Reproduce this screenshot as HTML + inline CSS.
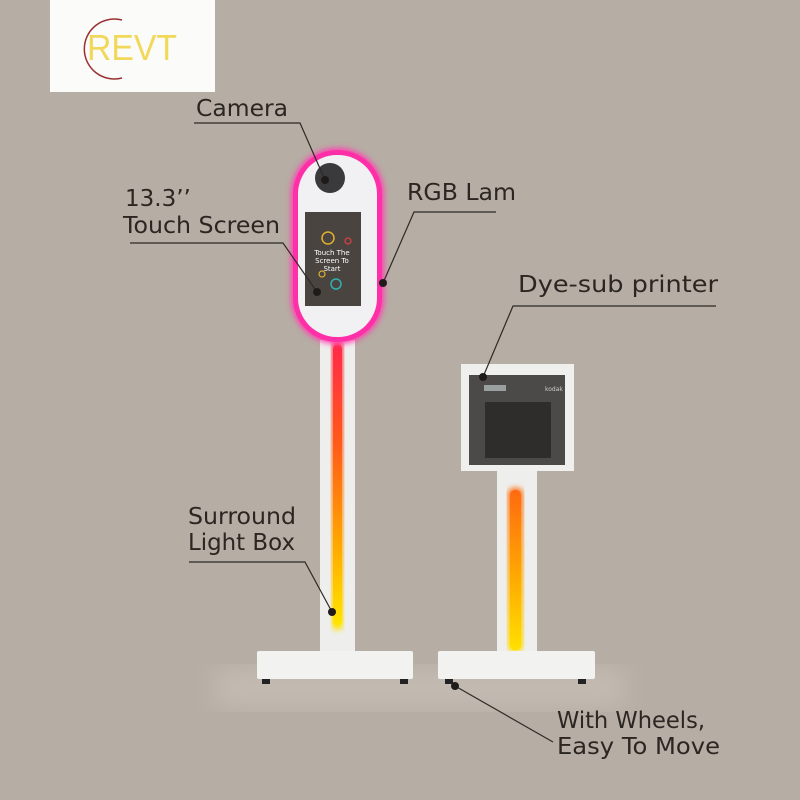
<!DOCTYPE html>
<html><head><meta charset="utf-8"><style>
html,body{margin:0;padding:0;background:#b6ada4;}
svg{display:block}
text{font-family:"DejaVu Sans","Liberation Sans",sans-serif;fill:#2b2622;}
</style></head><body>
<svg width="800" height="800" viewBox="0 0 800 800" xmlns="http://www.w3.org/2000/svg">
<defs>
<linearGradient id="strip" x1="0" y1="0" x2="0" y2="1">
<stop offset="0" stop-color="#ff2a4a"/><stop offset="0.35" stop-color="#ff5a1a"/><stop offset="0.75" stop-color="#ffb000"/><stop offset="1" stop-color="#ffe600"/>
</linearGradient>
<linearGradient id="strip2" x1="0" y1="0" x2="0" y2="1">
<stop offset="0" stop-color="#ff6a10"/><stop offset="0.6" stop-color="#ffb000"/><stop offset="1" stop-color="#ffe000"/>
</linearGradient>
<filter id="glow"><feGaussianBlur stdDeviation="3"/></filter>
<filter id="soft"><feGaussianBlur stdDeviation="12"/></filter>
</defs>
<rect width="800" height="800" fill="#b6ada4"/>
<rect x="215" y="668" width="410" height="40" fill="#c3bbb2" filter="url(#soft)"/>
<!-- logo -->
<rect x="50" y="0" width="165" height="92" fill="#fbfbfa"/>
<path d="M122 20 A30 30 0 1 0 122 78" fill="none" stroke="#9a3030" stroke-width="1.5"/>
<text x="87" y="60" font-size="36" textLength="90" lengthAdjust="spacingAndGlyphs" style="fill:#f1d85a;font-family:'Liberation Sans',sans-serif">REVT</text>
<!-- booth 1 -->
<rect x="320" y="340" width="35" height="315" fill="#eeeeec"/>
<rect x="332" y="340" width="11" height="290" rx="5" fill="url(#strip)" filter="url(#glow)"/>
<rect x="333" y="345" width="9" height="280" rx="4" fill="url(#strip)"/>
<rect x="291" y="148" width="93" height="196" rx="46" fill="#ff3fb0" filter="url(#glow)"/>
<rect x="293" y="150" width="89" height="192" rx="44" fill="#ff2fa8"/>
<rect x="298" y="155" width="79" height="182" rx="39" fill="#f1f1f3"/>
<circle cx="330" cy="178" r="15" fill="#3a3a3c"/>
<rect x="305" y="212" width="56" height="94" fill="#4a4440"/>
<circle cx="328" cy="238" r="6" fill="none" stroke="#e0b030" stroke-width="1.5"/>
<circle cx="348" cy="241" r="3" fill="none" stroke="#e04040" stroke-width="1.2"/>
<circle cx="322" cy="274" r="3" fill="none" stroke="#e0b030" stroke-width="1.2"/>
<circle cx="336" cy="284" r="5" fill="none" stroke="#30b0b0" stroke-width="1.5"/>
<text x="332" y="255" font-size="7" text-anchor="middle" style="fill:#fff">Touch The</text>
<text x="332" y="263" font-size="7" text-anchor="middle" style="fill:#fff">Screen To</text>
<text x="332" y="271" font-size="7" text-anchor="middle" style="fill:#fff">Start</text>
<rect x="257" y="651" width="156" height="28" rx="2" fill="#f2f2f0"/>
<rect x="262" y="679" width="8" height="5" fill="#222"/><rect x="400" y="679" width="8" height="5" fill="#222"/>
<!-- printer stand -->
<rect x="497" y="468" width="40" height="185" fill="#eeeeec"/>
<rect x="508" y="488" width="15" height="164" rx="6" fill="url(#strip2)" filter="url(#glow)"/>
<rect x="510" y="490" width="11" height="160" rx="5" fill="url(#strip2)"/>
<rect x="461" y="364" width="113" height="107" fill="#efefed"/>
<rect x="469" y="375" width="96" height="90" fill="#4b4a49"/>
<rect x="484" y="385" width="22" height="6" fill="#9aa0a0"/>
<rect x="485" y="402" width="66" height="56" fill="#2e2d2c"/>
<text x="545" y="391" font-size="6" style="fill:#ccc">kodak</text>
<rect x="438" y="651" width="157" height="28" rx="2" fill="#f2f2f0"/>
<rect x="445" y="679" width="8" height="5" fill="#222"/><rect x="578" y="679" width="8" height="5" fill="#222"/>
<!-- callouts -->
<g stroke="#2e2a26" stroke-width="1.2" fill="none">
<polyline points="194,123 300,123 325,180"/>
<polyline points="130,243 283,243 317,292"/>
<polyline points="496,212 414,212 383,283"/>
<polyline points="716,306 513,306 483,377"/>
<polyline points="189,562 305,562 332,612"/>
<line x1="455" y1="686" x2="553" y2="742"/>
</g>
<g fill="#1e1b19">
<circle cx="325" cy="180" r="4"/><circle cx="317" cy="292" r="4"/><circle cx="383" cy="283" r="4"/>
<circle cx="483" cy="377" r="4"/><circle cx="332" cy="612" r="4"/><circle cx="455" cy="686" r="4"/>
</g>
<g font-size="23">
<text x="196" y="116" textLength="92" lengthAdjust="spacingAndGlyphs">Camera</text>
<text x="125" y="206">13.3’’</text>
<text x="123" y="233" textLength="157" lengthAdjust="spacingAndGlyphs">Touch Screen</text>
<text x="407" y="200" textLength="109" lengthAdjust="spacingAndGlyphs">RGB Lam</text>
<text x="518" y="292" textLength="200" lengthAdjust="spacingAndGlyphs">Dye-sub printer</text>
<text x="188" y="524" textLength="108" lengthAdjust="spacingAndGlyphs">Surround</text>
<text x="188" y="550" textLength="107" lengthAdjust="spacingAndGlyphs">Light Box</text>
<text x="557" y="728" textLength="148" lengthAdjust="spacingAndGlyphs">With Wheels,</text>
<text x="557" y="754" textLength="163" lengthAdjust="spacingAndGlyphs">Easy To Move</text>
</g>
</svg>
</body></html>
